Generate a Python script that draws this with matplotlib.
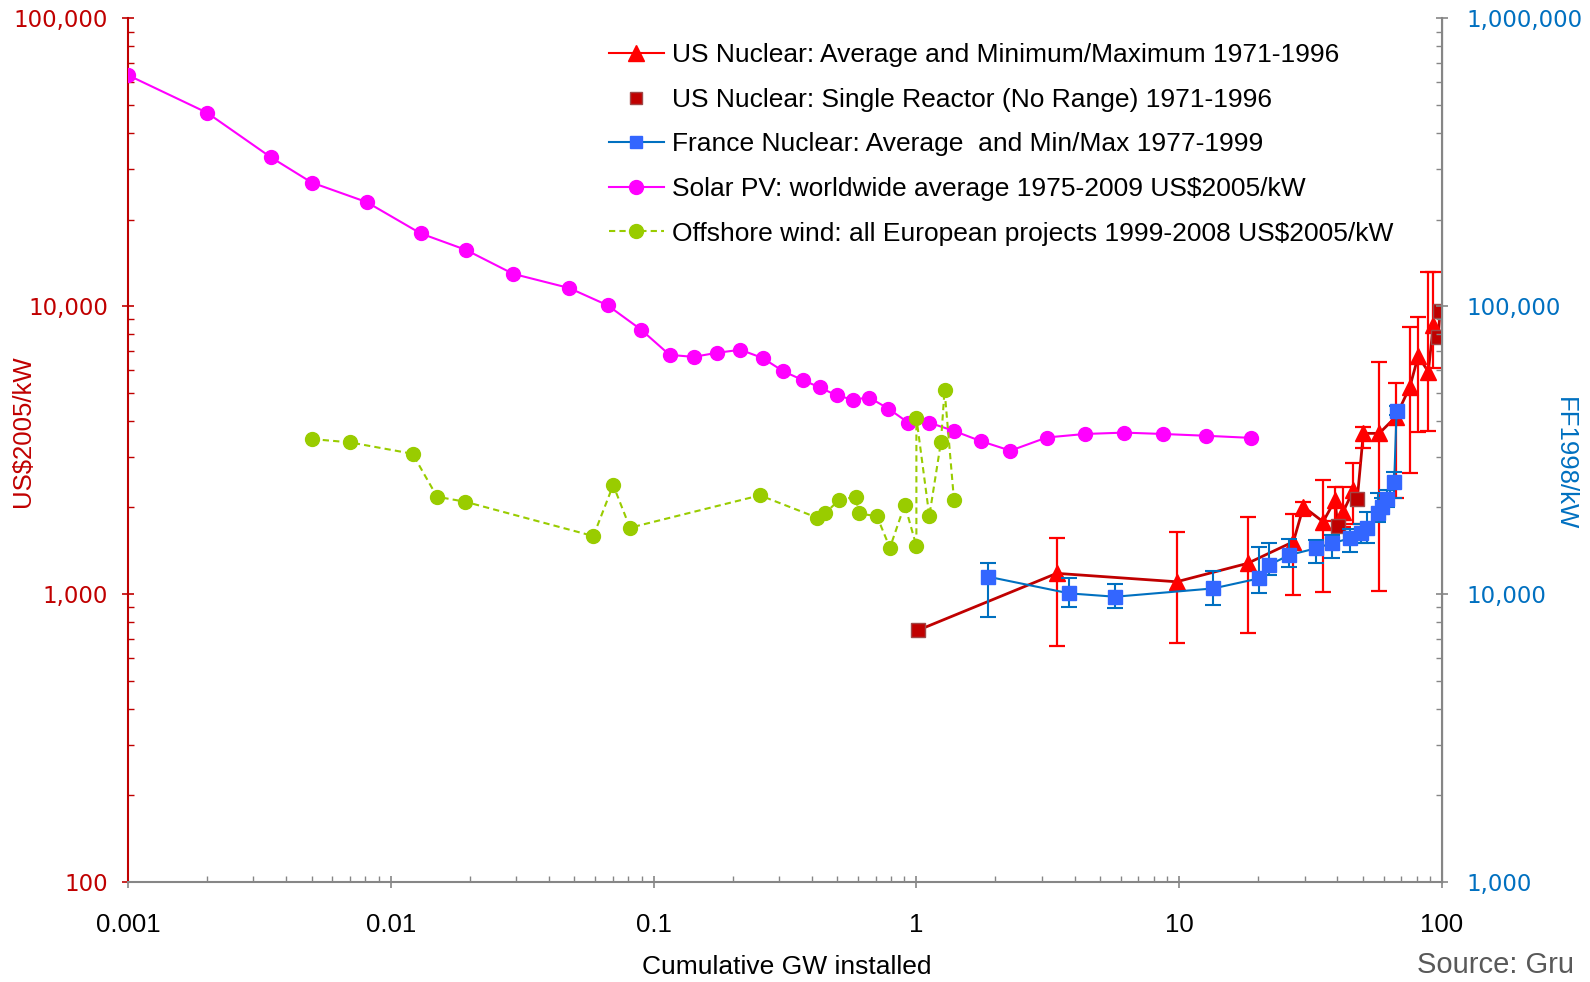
# Learning curves: cost vs cumulative installed capacity (log-log, twin y)

import numpy as np
import matplotlib.pyplot as plt
from matplotlib.lines import Line2D
from matplotlib.ticker import FixedLocator, LogLocator, NullFormatter


# Data

# Solar PV, US$2005/kW
solar_gw = [0.001, 0.0020, 0.0035, 0.0050, 0.0081, 0.0130, 0.0193, 0.0292, 0.0477,
            0.0668, 0.0895, 0.115, 0.142, 0.174, 0.214, 0.260, 0.311, 0.371, 0.428,
            0.497, 0.573, 0.661, 0.782, 0.932, 1.12, 1.39, 1.76, 2.28, 3.13, 4.37,
            6.17, 8.70, 12.6, 18.7]
solar_cost = [63500, 47000, 32900, 26900, 23000, 17900, 15700, 12960, 11570,
              10080, 8300, 6780, 6670, 6890, 7060, 6610, 5950, 5530, 5230,
              4900, 4740, 4820, 4410, 3940, 3940, 3690, 3400, 3150, 3500, 3600,
              3640, 3600, 3550, 3490]

# Offshore wind, US$2005/kW (in project order)
wind_gw = [0.00503, 0.00699, 0.0121, 0.0150, 0.0192, 0.0590, 0.0702, 0.0813, 0.254,
           0.420, 0.449, 0.508, 0.588, 0.603, 0.708, 0.793, 0.903, 1.00, 1.00,
           1.12, 1.24, 1.28, 1.39]
wind_cost = [3456, 3367, 3073, 2179, 2094, 1591, 2393, 1701, 2204,
             1842, 1909, 2123, 2179, 1909, 1863, 1449, 2045, 1469, 4100,
             1867, 3375, 5116, 2128]

# US nuclear average with min / max, US$2005/kW
us_gw = [3.42, 9.78, 18.2, 27.2, 29.7, 35.3, 39.2, 42.1, 46.0, 50.2, 57.7, 66.8,
         75.5, 81.2, 88.7, 92.7]
us_cost = [1181, 1104, 1279, 1521, 2012, 1784, 2123, 1933, 2299, 3618, 3618, 4133,
           5253, 6714, 5923, 8603]
us_min = [660, 678, 731, 993, 1867, 1015, 1800, 1715, 1750, 3209, 1025, 2151,
          2628, 3648, 3694, 6085]
us_max = [1562, 1647, 1857, 1900, 2084, 2490, 2361, 2361, 2847, 3814, 6415, 5398,
          8447, 9193, 13150, 13150]

# US nuclear single reactor years
us_single_gw = [1.017, 40.1, 47.6, 96.8, 98.3]
us_single_cost = [750, 1728, 2135, 7834, 9623]

# France nuclear, FF1998/kW (right axis)
fr_gw = [1.88, 3.82, 5.71, 13.5, 20.2, 22.0, 26.2, 33.1, 38.0, 44.7, 49.1, 51.7,
         57.2, 58.9, 61.6, 65.8, 67.2]
fr_cost = [11490, 10060, 9795, 10470, 11350, 12620, 13670, 14420, 15020, 15620,
           16260, 16930, 19090, 20120, 21350, 24570, 43350]
fr_min = [8346, 9043, 8928, 9165, 10060, 11650, 12390, 12850, 13400, 14050,
          15000, 15090, 17840, 19000, 20000, 21510, 42000]
fr_max = [12850, 11350, 10815, 12030, 14540, 15020, 15500, 15360, 16100, 16900,
          17500, 19330, 22400, 21500, 23000, 26610, 45000]

x_ticks = [0.001, 0.01, 0.1, 1, 10, 100]
x_labels = ["0.001", "0.01", "0.1", "1", "10", "100"]
yl_ticks = [100, 1000, 10000, 100000]
yl_labels = ["100", "1,000", "10,000", "100,000"]
yr_ticks = [1000, 10000, 100000, 1000000]
yr_labels = ["1,000", "10,000", "100,000", "1,000,000"]

legend_labels = [
    "US Nuclear: Average and Minimum/Maximum 1971-1996",
    "US Nuclear: Single Reactor (No Range) 1971-1996",
    "France Nuclear: Average  and Min/Max 1977-1999",
    "Solar PV: worldwide average 1975-2009 US\\$2005/kW",
    "Offshore wind: all European projects 1999-2008 US\\$2005/kW",
]


# Colours

RED = "#FF0000"
DARKRED = "#C00000"
BLUE_LINE = "#0070C0"
BLUE_MARK = "#3366FF"
MAGENTA = "#FF00FF"
GREEN = "#99CC00"
GREY = "#868686"


plt.rcParams["font.family"] = "Liberation Sans"

fig = plt.figure(figsize=(15.9, 9.82), dpi=100)
ax = fig.add_axes([0.0805, 0.1018, 0.8264, 0.8795])
ax2 = ax.twinx()

ax.set_xscale("log")
ax.set_yscale("log")
ax2.set_yscale("log")
ax.set_xlim(0.001, 100)
ax.set_ylim(100, 100000)
ax2.set_ylim(1000, 1000000)


# Solar and wind

ax.plot(solar_gw, solar_cost, "-o", color=MAGENTA, lw=1.5, ms=10, zorder=3)
ax.plot(wind_gw, wind_cost, "o", color=GREEN, ls=(0, (3, 2)), lw=1.5, ms=10, zorder=3)


# US nuclear

us_all = sorted(zip(us_gw + us_single_gw, us_cost + us_single_cost))
ax.plot([p[0] for p in us_all], [p[1] for p in us_all], color=DARKRED, lw=2, zorder=4)

us_cost_a = np.array(us_cost)
ax.errorbar(us_gw, us_cost,
            yerr=[us_cost_a - np.array(us_min), np.array(us_max) - us_cost_a],
            fmt="^", color=RED, ms=11, ecolor=RED, elinewidth=1.6,
            capsize=6, capthick=1.6, zorder=5)

ax.plot(us_single_gw, us_single_cost, "s", color=DARKRED, mec="#A04848",
        ms=10, ls="none", zorder=6)


# France nuclear (right axis)

fr_cost_a = np.array(fr_cost)
ax2.errorbar(fr_gw, fr_cost,
             yerr=[fr_cost_a - np.array(fr_min), np.array(fr_max) - fr_cost_a],
             fmt="-s", color=BLUE_LINE, lw=1.5, mfc=BLUE_MARK, mec=BLUE_MARK, ms=10,
             ecolor=BLUE_LINE, elinewidth=1.5, capsize=6, capthick=1.5, zorder=4)


# Axes styling

for a in (ax, ax2):
    a.spines["top"].set_visible(False)
    a.patch.set_visible(False)

ax.spines["left"].set_color(DARKRED)
ax.spines["left"].set_linewidth(1.5)
ax.spines["bottom"].set_color(GREY)
ax.spines["bottom"].set_linewidth(1.5)
ax2.spines["right"].set_color(GREY)
ax2.spines["right"].set_linewidth(1.5)
ax2.spines["left"].set_visible(False)
ax2.spines["bottom"].set_visible(False)

ax.xaxis.set_major_locator(FixedLocator(x_ticks))
ax.set_xticklabels(x_labels)
ax.xaxis.set_minor_locator(LogLocator(base=10, subs=range(2, 10)))
ax.xaxis.set_minor_formatter(NullFormatter())

ax.yaxis.set_major_locator(FixedLocator(yl_ticks))
ax.set_yticklabels(yl_labels)
ax.yaxis.set_minor_locator(LogLocator(base=10, subs=range(2, 10)))
ax.yaxis.set_minor_formatter(NullFormatter())

ax2.yaxis.set_major_locator(FixedLocator(yr_ticks))
ax2.set_yticklabels(yr_labels)
ax2.yaxis.set_minor_locator(LogLocator(base=10, subs=range(2, 10)))
ax2.yaxis.set_minor_formatter(NullFormatter())

ax.tick_params(axis="x", which="major", direction="inout", length=9, width=1.2,
               color=GREY, labelsize=18.5, pad=18, labelcolor="black")
ax.tick_params(axis="x", which="minor", direction="in", length=4, width=1.0, color=GREY)
ax.tick_params(axis="y", which="major", direction="inout", length=9, width=1.2,
               color=DARKRED, pad=10, labelcolor=DARKRED)
ax.tick_params(axis="y", which="minor", direction="in", length=4, width=1.0, color=DARKRED)
ax2.tick_params(axis="y", which="major", direction="inout", length=9, width=1.2,
                color=GREY, pad=13, labelcolor=BLUE_LINE)
ax2.tick_params(axis="y", which="minor", direction="in", length=4, width=1.0, color=GREY)

for lab in ax.get_yticklabels() + ax2.get_yticklabels():
    lab.set_fontfamily("DejaVu Sans")
    lab.set_fontsize(16.5)


# Axis titles and source

fig.text(0.0142, 0.561, "US\\$2005/kW", rotation=90, color=DARKRED, fontsize=18.5,
         ha="center", va="center")
fig.text(0.984, 0.528, "FF1998/kW", rotation=270, color=BLUE_LINE, fontsize=18.5,
         ha="center", va="center")
fig.text(0.495, 0.0150, "Cumulative GW installed", color="black", fontsize=19,
         ha="center", va="center")
fig.text(0.891, 0.0175, "Source: Gru", color="#595959", fontsize=21,
         ha="left", va="center")


# Legend

handles = [
    Line2D([], [], color=RED, marker="^", ms=11, lw=1.5),
    Line2D([], [], color=DARKRED, marker="s", mec="#A04848", ms=9, ls="none"),
    Line2D([], [], color=BLUE_LINE, marker="s", mfc=BLUE_MARK, mec=BLUE_MARK, ms=9, lw=1.5),
    Line2D([], [], color=MAGENTA, marker="o", ms=10, lw=1.5),
    Line2D([], [], color=GREEN, marker="o", ms=10, lw=1.5, ls=(0, (3, 2))),
]
leg = ax2.legend(handles, legend_labels, loc="upper left",
                 bbox_to_anchor=(609 / 1590, 0.956), bbox_transform=fig.transFigure,
                 frameon=False, fontsize=19, handlelength=2.08, handletextpad=0.3,
                 labelspacing=0.78, borderpad=0, borderaxespad=0)

fig.savefig("out.png", dpi=100)
plt.close(fig)
